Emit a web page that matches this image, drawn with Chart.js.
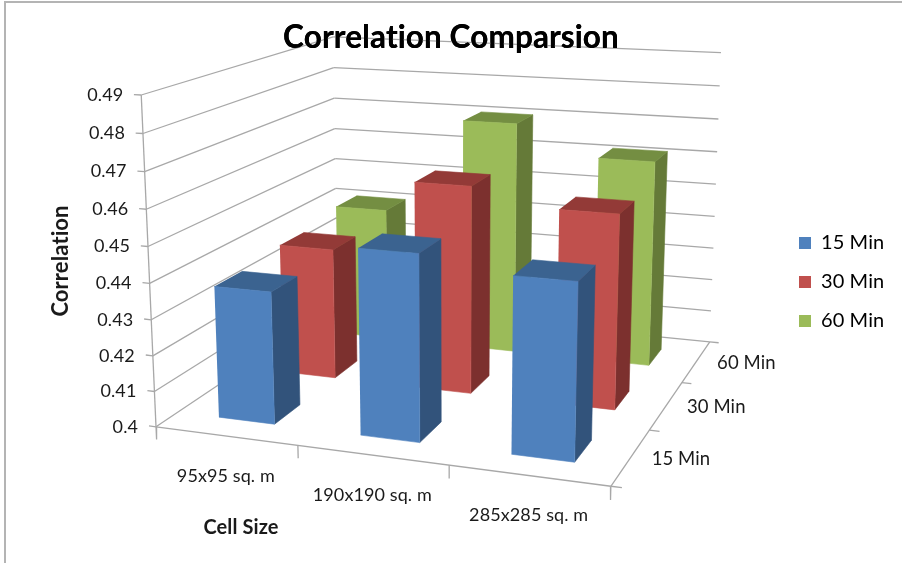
<!DOCTYPE html>
<html>
<head>
<meta charset="utf-8">
<title>Correlation Comparsion</title>
<script src="https://cdn.jsdelivr.net/npm/chart.js@4"></script>
<style>
  html, body { margin: 0; padding: 0; background: #fff; overflow: hidden; }
  #wrap { position: relative; width: 902px; height: 563px; }
  #wrap canvas { position: absolute; left: 0; top: 0; }
  /* thin frame on the top and left of the sheet */
  #frame { position: absolute; left: 4px; top: 1px; right: 0; bottom: 0;
           border-left: 2px solid #b4b4b4; border-top: 2px solid #b4b4b4; pointer-events: none; }
</style>
</head>
<body>
<div id="wrap">
  <canvas id="chart" width="902" height="563"></canvas>
  <div id="frame"></div>
</div>
<script>
const chartTitle = "Correlation Comparsion";
const cellSizes = ["95x95 sq. m", "190x190 sq. m", "285x285 sq. m"];
const intervals = ["15 Min", "30 Min", "60 Min"];
const yTicks = [0.4, 0.41, 0.42, 0.43, 0.44, 0.45, 0.46, 0.47, 0.48, 0.49];

const corr15 = [0.437, 0.451, 0.4474];
const corr30 = [0.4385, 0.46, 0.4553];
const corr60 = [0.441, 0.4704, 0.4616];

const yMin = yTicks[0];
const yMax = yTicks[yTicks.length - 1];
const seriesValues = [corr15, corr30, corr60];
const faceColors = [
  { front: "#4f81bd", side: "#32537b", top: "#3b6390" },
  { front: "#c0504d", side: "#7c302e", top: "#933a37" },
  { front: "#9bbb59", side: "#657a38", top: "#748e42" },
];
const gridColor = "#a8a8a8";
const textColor = "#1a1a1a";
const fontFamily = "Lato, 'Open Sans', sans-serif";
const barShare = 0.4; // bar size inside its cell, about a 150% gap
const titleSize = 31.5;
const titlePad = 18.5;
const titleBand = titlePad + titleSize * 1.2; // height the title takes off the chart area

// box reference points: [u, v, z, screenX, screenY], u along cell size, v into depth, z up
const boxPoints = [
  [0, 0, 0, 156, 425],
  [0, 0, 1, 141.5, 95.5],
  [1, 0, 0, 608, 486],
  [1, 1, 0, 707, 341],
  [1, 1, 1, 721, 53],
  [0, 1, 0, 338, 306],
  [0, 1, 1, 333, 36],
  [1 / 3, 0, 0, 297.5, 447],
  [2 / 3, 0, 0, 449, 465],
  [1, 1 / 3, 0, 652, 430],
  [1, 2 / 3, 0, 685, 383],
];

// least squares fit of the 3x4 camera matrix for the box
function fitCamera(points) {
  const n = 11;
  const ata = Array.from({ length: n }, () => new Array(n + 1).fill(0));
  const addRow = (row, rhs) => {
    for (let i = 0; i < n; i++) {
      for (let j = 0; j < n; j++) ata[i][j] += row[i] * row[j];
      ata[i][n] += row[i] * rhs;
    }
  };
  points.forEach(([u, v, z, px, py]) => {
    const x = px / 1000;
    const y = py / 1000;
    addRow([u, v, z, 1, 0, 0, 0, 0, -x * u, -x * v, -x * z], x);
    addRow([0, 0, 0, 0, u, v, z, 1, -y * u, -y * v, -y * z], y);
  });
  for (let c = 0; c < n; c++) {
    let pivot = c;
    for (let r = c + 1; r < n; r++) {
      if (Math.abs(ata[r][c]) > Math.abs(ata[pivot][c])) pivot = r;
    }
    [ata[c], ata[pivot]] = [ata[pivot], ata[c]];
    for (let r = 0; r < n; r++) {
      if (r === c) continue;
      const f = ata[r][c] / ata[c][c];
      for (let k = c; k <= n; k++) ata[r][k] -= f * ata[c][k];
    }
  }
  return ata.map((row, i) => row[n] / row[i]);
}

const cam = fitCamera(boxPoints);

function project(u, v, z) {
  const w = cam[8] * u + cam[9] * v + cam[10] * z + 1;
  return {
    x: (1000 * (cam[0] * u + cam[1] * v + cam[2] * z + cam[3])) / w,
    y: (1000 * (cam[4] * u + cam[5] * v + cam[6] * z + cam[7])) / w,
  };
}

const level = (value) => (value - yMin) / (yMax - yMin);

const shapes = [];

function addLine(from, to, color, width) {
  shapes.push({
    data: [project(...from), project(...to)],
    borderColor: color || gridColor,
    borderWidth: width || 1.3,
    backgroundColor: "transparent",
    fill: false,
  });
}

function addFace(corners, color) {
  shapes.push({
    data: corners.map((c) => project(...c)),
    backgroundColor: color,
    borderColor: color,
    borderWidth: 0.6,
    fill: "shape",
  });
}

// walls: one line per tick on the left wall and the back wall
yTicks.forEach((tick) => {
  const z = level(tick);
  addLine([0, 0, z], [0, 1, z]);
  addLine([0, 1, z], [1, 1, z]);
  addLine([-0.017, 0, z], [0, 0, z]);
});
addLine([0, 0, 0], [0, 0, 1]);

// floor edges and their tick marks
addLine([0, 0, 0], [1, 0, 0]);
addLine([1, 0, 0], [1, 1, 0]);
for (let i = 0; i <= cellSizes.length; i++) {
  const u = i / cellSizes.length;
  addLine([u, 0, 0], [u, 0, -0.04]);
}
for (let j = 0; j <= intervals.length; j++) {
  const v = j / intervals.length;
  addLine([1, v, 0], [1.022, v, 0]);
}

// bars, back row first so the nearer ones paint over it
for (let j = intervals.length - 1; j >= 0; j--) {
  for (let i = 0; i < cellSizes.length; i++) {
    const u0 = (i + 0.5 - barShare / 2) / cellSizes.length;
    const u1 = (i + 0.5 + barShare / 2) / cellSizes.length;
    const v0 = (j + 0.5 - barShare / 2) / intervals.length;
    const v1 = (j + 0.5 + barShare / 2) / intervals.length;
    const z = level(seriesValues[j][i]);
    const col = faceColors[j];
    addFace([[u1, v0, 0], [u1, v1, 0], [u1, v1, z], [u1, v0, z]], col.side);
    addFace([[u0, v0, z], [u1, v0, z], [u1, v1, z], [u0, v1, z]], col.top);
    addFace([[u0, v0, 0], [u1, v0, 0], [u1, v0, z], [u0, v0, z]], col.front);
  }
}

// Chart.js paints higher order first
shapes.forEach((s, i) => {
  s.order = shapes.length - i;
  s.showLine = true;
  s.pointRadius = 0;
  s.tension = 0;
  s.clip = false;
});

const axisText = {
  id: "axisText",
  afterLayout(chart) {
    // legend sits to the right of the box
    const lg = chart.legend;
    lg.left = 780;
    lg.right = 902;
    lg.top = 214;
    lg.bottom = 563;
  },
  beforeDraw(chart) {
    // a small spacing keeps Lato from joining "ti" into a ligature
    chart.ctx.letterSpacing = "0.1px";
  },
  afterDraw(chart) {
    const ctx = chart.ctx;
    const sx = chart.scales.x;
    const sy = chart.scales.y;
    const put = (text, pt, dx, dy, align) => {
      ctx.textAlign = align;
      ctx.fillText(text, sx.getPixelForValue(pt.x) + dx, sy.getPixelForValue(pt.y) + dy);
    };
    // the top wall lines run behind the title, so put it back on top of them
    chart.titleBlock.draw();

    ctx.save();
    ctx.fillStyle = textColor;
    ctx.textBaseline = "middle";

    ctx.font = "18px " + fontFamily;
    yTicks.forEach((tick) => put(String(tick), project(0, 0, level(tick)), -18, 0, "right"));

    ctx.font = "18px " + fontFamily;
    cellSizes.forEach((name, i) => put(name, project((i + 0.5) / cellSizes.length, 0, 0), 0, 40, "center"));
    ctx.font = "18.5px " + fontFamily;
    intervals.forEach((name, j) => put(name, project(1, (j + 0.5) / intervals.length, 0), 50, 2, "center"));

    ctx.textAlign = "center";
    ctx.font = "bold 20px " + fontFamily;
    ctx.fillText("Cell Size", sx.getPixelForValue(241), sy.getPixelForValue(528));
    ctx.font = "bold 22px " + fontFamily;
    ctx.translate(sx.getPixelForValue(61), sy.getPixelForValue(261));
    ctx.rotate(-Math.PI / 2);
    ctx.fillText("Correlation", 0, 0);
    ctx.restore();
  },
};

new Chart(document.getElementById("chart"), {
  type: "scatter",
  data: { datasets: shapes },
  plugins: [axisText],
  options: {
    responsive: false,
    animation: false,
    events: [],
    layout: { padding: 0 },
    scales: {
      x: { type: "linear", display: false, min: 0, max: 902 },
      y: { type: "linear", display: false, min: titleBand, max: 563, reverse: true },
    },
    plugins: {
      tooltip: { enabled: false },
      title: {
        display: true,
        text: chartTitle,
        color: "#000",
        font: { family: fontFamily, size: titleSize, weight: "bold" },
        padding: { top: titlePad, bottom: 0 },
      },
      legend: {
        display: true,
        position: "chartArea",
        align: "start",
        labels: {
          boxWidth: 12,
          boxHeight: 12,
          padding: 19,
          color: textColor,
          font: { family: fontFamily, size: 20 },
          generateLabels: () =>
            intervals.map((name, j) => ({
              text: name,
              fillStyle: faceColors[j].front,
              strokeStyle: faceColors[j].front,
              lineWidth: 0,
              datasetIndex: j,
            })),
        },
      },
    },
  },
});
</script>
</body>
</html>
